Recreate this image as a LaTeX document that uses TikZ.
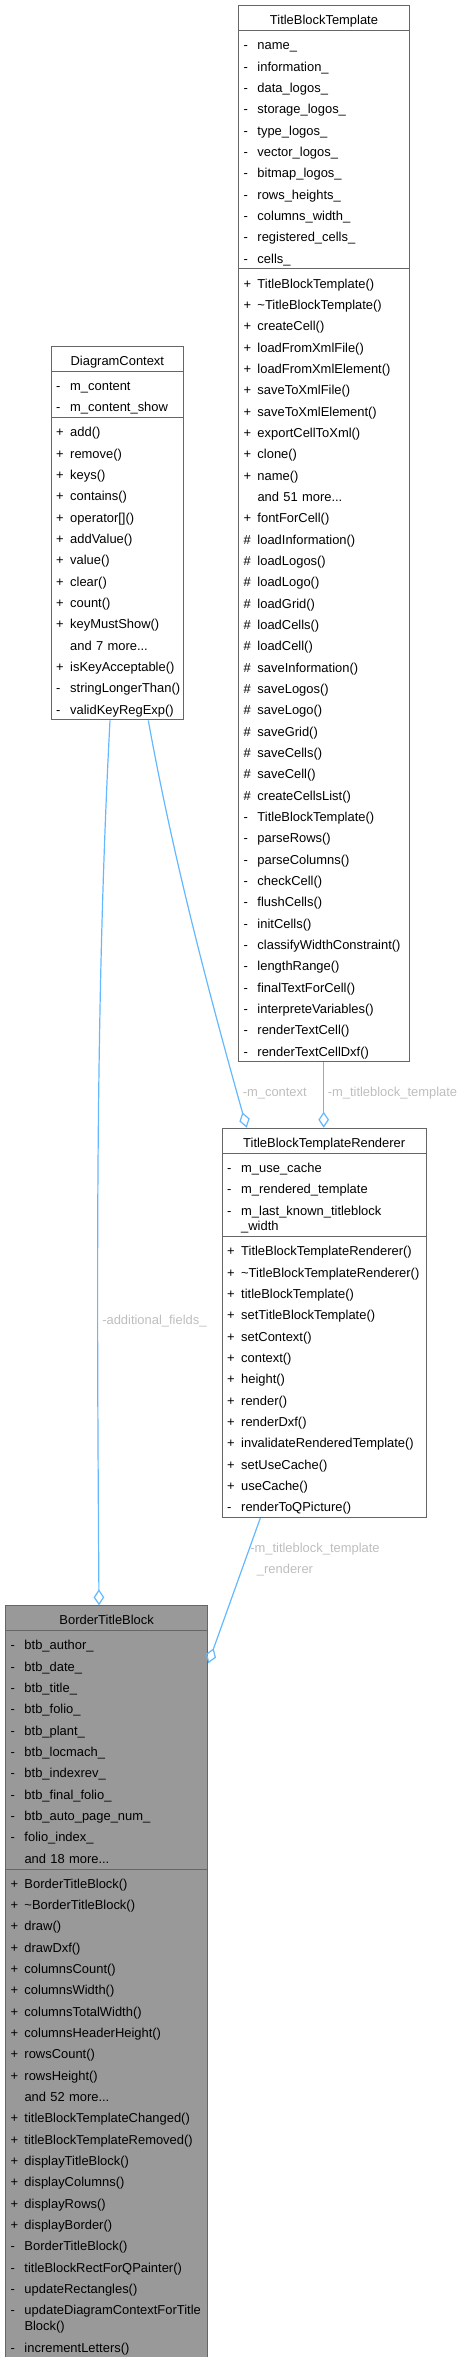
\documentclass[tikz,border=0pt]{standalone}
\usepackage{fontspec}
\setmainfont{Liberation Sans}
\usetikzlibrary{shapes.multipart,arrows.meta,calc}
\definecolor{boxborder}{HTML}{666666}
\definecolor{boxfill}{HTML}{999999}
\definecolor{edgeblue}{HTML}{63B8FF}
\definecolor{labelgrey}{HTML}{BEBEBE}
\setlength{\parindent}{0pt}
\newcommand{\rowstrut}{\rule[-3pt]{0pt}{16pt}}
\newcommand{\umlrow}[2]{\rowstrut\makebox[10.5pt][l]{#1}\mbox{#2}}
\newcommand{\umlgap}[1]{\rowstrut\hspace*{10.5pt}\mbox{#1}}
\newcommand{\umltitle}[1]{\makebox[\hsize][c]{\rowstrut #1}}
\begin{document}
\begin{tikzpicture}[x=0.75pt, y=-0.75pt,
		class/.style={rectangle split, rectangle split parts=3, draw=boxborder, line width=0.75pt, fill=white, anchor=north west, align=left, inner xsep=3.75pt, inner ysep=1pt, font=\fontsize{9.7}{16}\selectfont},
		focusclass/.style={class, fill=boxfill},
		assoc/.style={draw=edgeblue, line width=0.9pt, -{Diamond[open, length=12pt, width=8pt]}},
		elabel/.style={text=labelgrey, inner sep=0pt, font=\fontsize{9.7}{16}\selectfont}]
			\useasboundingbox (0,0) rectangle (468,2357);
			\node[class, text width=120.75pt] (tbt) at (238,5) {\umltitle{TitleBlockTemplate}\nodepart{two}%
				\umlrow{-}{name\_}\\
				\umlrow{-}{information\_}\\
				\umlrow{-}{data\_logos\_}\\
				\umlrow{-}{storage\_logos\_}\\
				\umlrow{-}{type\_logos\_}\\
				\umlrow{-}{vector\_logos\_}\\
				\umlrow{-}{bitmap\_logos\_}\\
				\umlrow{-}{rows\_heights\_}\\
				\umlrow{-}{columns\_width\_}\\
				\umlrow{-}{registered\_cells\_}\\
				\umlrow{-}{cells\_}\nodepart{three}%
				\umlrow{+}{TitleBlockTemplate()}\\
				\umlrow{+}{\textasciitilde TitleBlockTemplate()}\\
				\umlrow{+}{createCell()}\\
				\umlrow{+}{loadFromXmlFile()}\\
				\umlrow{+}{loadFromXmlElement()}\\
				\umlrow{+}{saveToXmlFile()}\\
				\umlrow{+}{saveToXmlElement()}\\
				\umlrow{+}{exportCellToXml()}\\
				\umlrow{+}{clone()}\\
				\umlrow{+}{name()}\\
				\umlgap{and 51 more...}\\
				\umlrow{+}{fontForCell()}\\
				\umlrow{\#}{loadInformation()}\\
				\umlrow{\#}{loadLogos()}\\
				\umlrow{\#}{loadLogo()}\\
				\umlrow{\#}{loadGrid()}\\
				\umlrow{\#}{loadCells()}\\
				\umlrow{\#}{loadCell()}\\
				\umlrow{\#}{saveInformation()}\\
				\umlrow{\#}{saveLogos()}\\
				\umlrow{\#}{saveLogo()}\\
				\umlrow{\#}{saveGrid()}\\
				\umlrow{\#}{saveCells()}\\
				\umlrow{\#}{saveCell()}\\
				\umlrow{\#}{createCellsList()}\\
				\umlrow{-}{TitleBlockTemplate()}\\
				\umlrow{-}{parseRows()}\\
				\umlrow{-}{parseColumns()}\\
				\umlrow{-}{checkCell()}\\
				\umlrow{-}{flushCells()}\\
				\umlrow{-}{initCells()}\\
				\umlrow{-}{classifyWidthConstraint()}\\
				\umlrow{-}{lengthRange()}\\
				\umlrow{-}{finalTextForCell()}\\
				\umlrow{-}{interpreteVariables()}\\
				\umlrow{-}{renderTextCell()}\\
				\umlrow{-}{renderTextCellDxf()}};
			\node[class, text width=91.7pt] (dc) at (50.7,345.7) {\umltitle{DiagramContext}\nodepart{two}%
				\umlrow{-}{m\_content}\\
				\umlrow{-}{m\_content\_show}\nodepart{three}%
				\umlrow{+}{add()}\\
				\umlrow{+}{remove()}\\
				\umlrow{+}{keys()}\\
				\umlrow{+}{contains()}\\
				\umlrow{+}{operator[]()}\\
				\umlrow{+}{addValue()}\\
				\umlrow{+}{value()}\\
				\umlrow{+}{clear()}\\
				\umlrow{+}{count()}\\
				\umlrow{+}{keyMustShow()}\\
				\umlgap{and 7 more...}\\
				\umlrow{+}{isKeyAcceptable()}\\
				\umlrow{-}{stringLongerThan()}\\
				\umlrow{-}{validKeyRegExp()}};
			\node[class, text width=145.5pt] (tbtr) at (221.7,1127.7) {\umltitle{TitleBlockTemplateRenderer}\nodepart{two}%
				\umlrow{-}{m\_use\_cache}\\
				\umlrow{-}{m\_rendered\_template}\\
				\umlrow{-}{m\_last\_known\_titleblock}\\[-4.2pt]
				\umlgap{\_width}\nodepart{three}%
				\umlrow{+}{TitleBlockTemplateRenderer()}\\
				\umlrow{+}{\textasciitilde TitleBlockTemplateRenderer()}\\
				\umlrow{+}{titleBlockTemplate()}\\
				\umlrow{+}{setTitleBlockTemplate()}\\
				\umlrow{+}{setContext()}\\
				\umlrow{+}{context()}\\
				\umlrow{+}{height()}\\
				\umlrow{+}{render()}\\
				\umlrow{+}{renderDxf()}\\
				\umlrow{+}{invalidateRenderedTemplate()}\\
				\umlrow{+}{setUseCache()}\\
				\umlrow{+}{useCache()}\\
				\umlrow{-}{renderToQPicture()}};
			\node[focusclass, text width=144.2pt] (btb) at (5,1605.3) {\umltitle{BorderTitleBlock}\nodepart{two}%
				\umlrow{-}{btb\_author\_}\\
				\umlrow{-}{btb\_date\_}\\
				\umlrow{-}{btb\_title\_}\\
				\umlrow{-}{btb\_folio\_}\\
				\umlrow{-}{btb\_plant\_}\\
				\umlrow{-}{btb\_locmach\_}\\
				\umlrow{-}{btb\_indexrev\_}\\
				\umlrow{-}{btb\_final\_folio\_}\\
				\umlrow{-}{btb\_auto\_page\_num\_}\\
				\umlrow{-}{folio\_index\_}\\
				\umlgap{and 18 more...}\nodepart{three}%
				\umlrow{+}{BorderTitleBlock()}\\
				\umlrow{+}{\textasciitilde BorderTitleBlock()}\\
				\umlrow{+}{draw()}\\
				\umlrow{+}{drawDxf()}\\
				\umlrow{+}{columnsCount()}\\
				\umlrow{+}{columnsWidth()}\\
				\umlrow{+}{columnsTotalWidth()}\\
				\umlrow{+}{columnsHeaderHeight()}\\
				\umlrow{+}{rowsCount()}\\
				\umlrow{+}{rowsHeight()}\\
				\umlgap{and 52 more...}\\
				\umlrow{+}{titleBlockTemplateChanged()}\\
				\umlrow{+}{titleBlockTemplateRemoved()}\\
				\umlrow{+}{displayTitleBlock()}\\
				\umlrow{+}{displayColumns()}\\
				\umlrow{+}{displayRows()}\\
				\umlrow{+}{displayBorder()}\\
				\umlrow{-}{BorderTitleBlock()}\\
				\umlrow{-}{titleBlockRectForQPainter()}\\
				\umlrow{-}{updateRectangles()}\\
				\umlrow{-}{updateDiagramContextForTitle}\\[-4.2pt]
				\umlgap{Block()}\\
				\umlrow{-}{incrementLetters()}};
			\draw[assoc] ($(dc.south west)+(59.3,0)$) .. controls +(-15,284) and +(-2,-305) .. ($(btb.north west)+(94,0)$);
			\draw[assoc] ($(dc.south west)+(97.6,0)$) .. controls +(24.7,137) and +(-38.4,-137) .. ($(tbtr.north west)+(25,0)$);
			\draw[assoc] ($(tbt.south west)+(85.7,0)$) -- ($(tbtr.north west)+(102,0)$);
			\draw[assoc] ($(tbtr.south west)+(38.6,0)$) -- ($(btb.north east)+(0,58)$);
			\node[elabel, anchor=base west] (lblfields) at (102,1324.5) {-additional\_fields\_};
			\node[elabel, anchor=base west] (lblctx) at (242.5,1096) {-m\_context};
			\node[elabel, anchor=base west] (lbltpl) at (327.5,1096) {-m\_titleblock\_template};
			\node[elabel, anchor=west, align=left] (lblrnd) at (250,1559.8) {-m\_titleblock\_template\\\hspace*{5pt}\_renderer};
		\end{tikzpicture}
\end{document}
